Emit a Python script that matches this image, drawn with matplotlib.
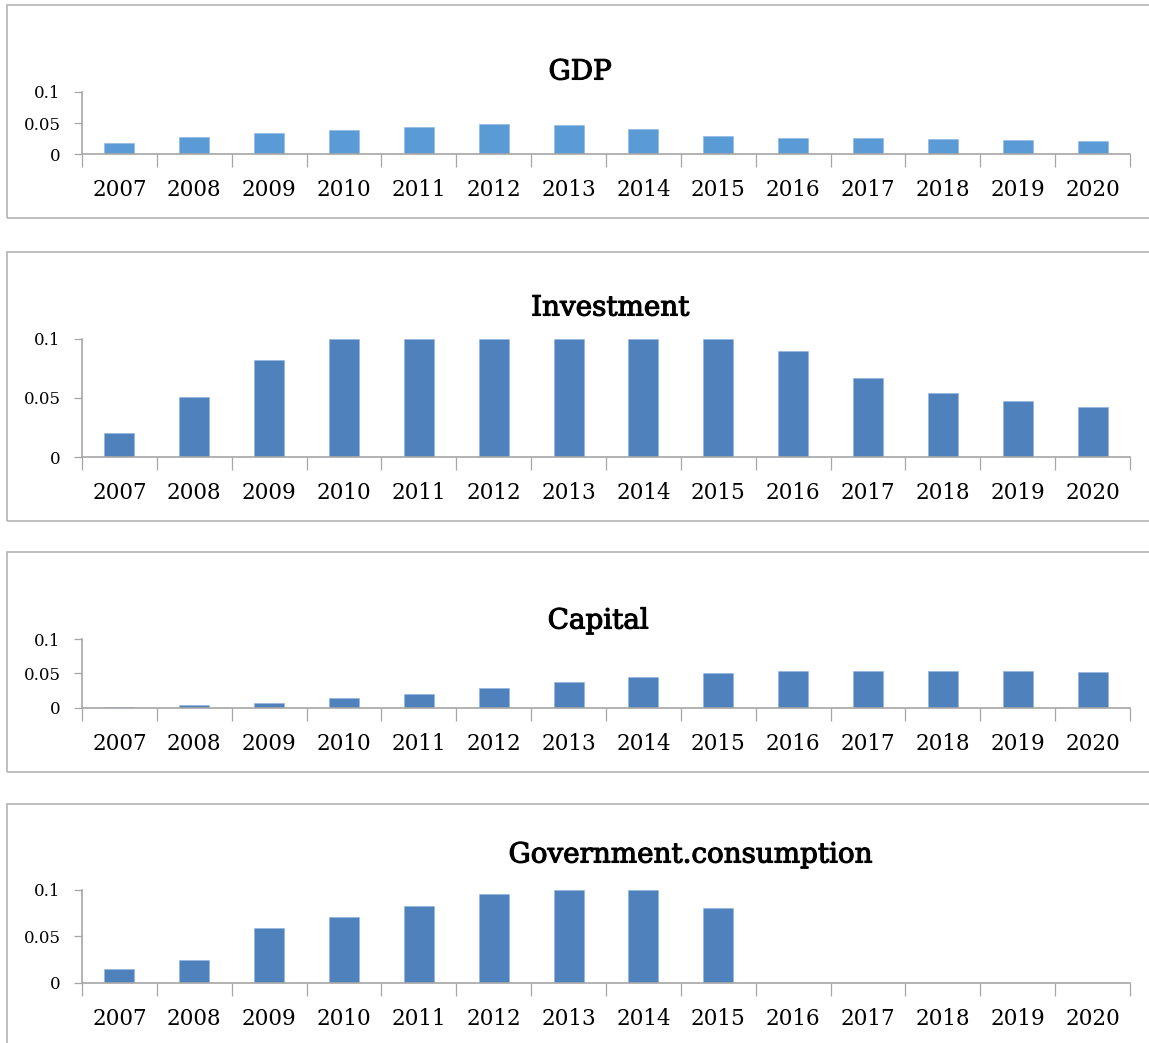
import matplotlib
matplotlib.use('Agg')
import matplotlib.pyplot as plt
import matplotlib.patheffects as pe
from matplotlib.patches import Rectangle
import numpy as np

years = [str(y) for y in range(2007, 2021)]

gdp = [0.018, 0.0275, 0.034, 0.039, 0.044, 0.048, 0.047, 0.040, 0.030, 0.026, 0.026, 0.024, 0.023, 0.021]
investment = [0.0205, 0.0507, 0.082, 0.1, 0.1, 0.1, 0.1, 0.1, 0.1, 0.0896, 0.067, 0.054, 0.047, 0.042]
capital = [0.0005, 0.003, 0.0073, 0.0137, 0.0205, 0.0287, 0.037, 0.0448, 0.050, 0.053, 0.054, 0.054, 0.053, 0.052]
gov_consumption = [0.0148, 0.024, 0.059, 0.071, 0.083, 0.096, 0.1, 0.1, 0.081, 0, 0, 0, 0, 0]

titles = ['GDP', 'Investment', 'Capital', 'Government.consumption']
series = [gdp, investment, capital, gov_consumption]
colors = ['#5B9BD5', '#4F81BD', '#4F81BD', '#4F81BD']

W, H = 1149, 1043
plt.rcParams['font.family'] = ['DejaVu Serif']

fig = plt.figure(figsize=(W / 100, H / 100), dpi=100)

# pixel layout: (box top, box bottom, axis y for 0.1, axis y for 0, title x, title y)
layout = [
    (4.7, 218.3, 91.7, 154.3, 580, 72),
    (252, 520.7, 338.7, 457, 610, 308),
    (552, 771.5, 639.3, 707.5, 598, 621),
    (803.5, 1060, 890, 982.7, 690, 855),
]
left_px, right_px = 82, 1130
grey = '#A6A6A6'

for (btop, bbot, ytop, ybot, tx, ty), vals, title, col in zip(layout, series, titles, colors):
    # frame around each chart
    fig.patches.append(Rectangle((7 / W, 1 - bbot / H), 1.2, (bbot - btop) / H,
                                 transform=fig.transFigure, fill=False,
                                 edgecolor='#B4B4B4', linewidth=1.2))
    ax = fig.add_axes([left_px / W, 1 - ybot / H, (right_px - left_px) / W, (ybot - ytop) / H])
    x = np.arange(len(years))
    ax.bar(x, vals, width=0.4, color=col, edgecolor='#8DB3E2', linewidth=0.4)
    ax.set_xlim(-0.5, len(years) - 0.5)
    ax.set_ylim(0, 0.1)
    ax.set_yticks([0, 0.05, 0.1])
    ax.set_yticklabels(['0', '0.05', '0.1'])
    ax.set_xticks(x)
    ax.set_xticklabels(years)
    ax.set_xticks(np.arange(-0.5, len(years)), minor=True)
    ax.tick_params(axis='x', which='major', length=0, labelsize=15.5, pad=18)
    ax.tick_params(axis='x', which='minor', length=9, width=0.9, color=grey, direction='out')
    ax.tick_params(axis='y', length=6, width=0.9, color=grey, labelsize=12, pad=9.5)
    for s in ['top', 'right']:
        ax.spines[s].set_visible(False)
    for s in ['left', 'bottom']:
        ax.spines[s].set_color(grey)
        ax.spines[s].set_linewidth(1.2)
    ax.patch.set_alpha(0)
    fig.text(tx / W, 1 - ty / H, title, ha='center', va='center', fontsize=20,
             path_effects=[pe.withStroke(linewidth=0.8, foreground='black')])

fig.savefig('out.png', dpi=100)
